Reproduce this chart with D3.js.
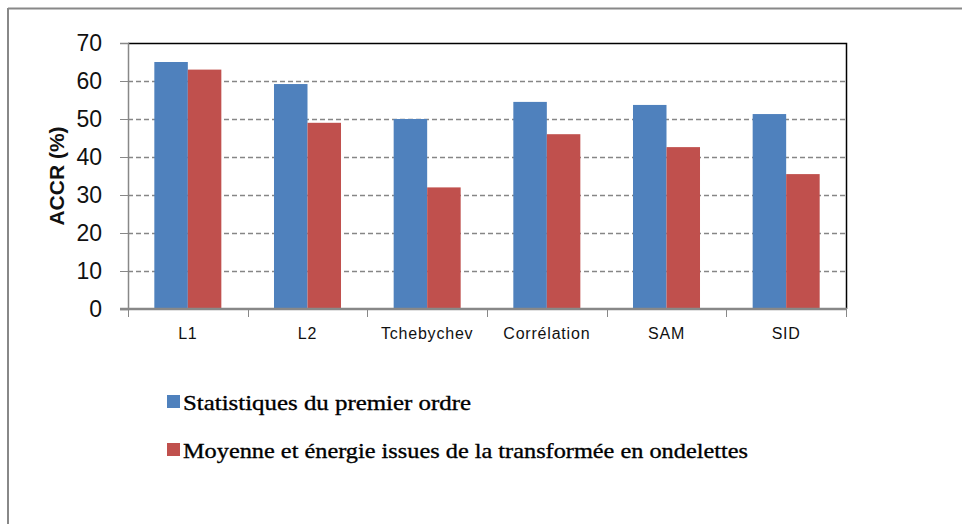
<!DOCTYPE html>
<html>
<head>
<meta charset="utf-8">
<script src="https://cdn.jsdelivr.net/npm/d3@7"></script>
<style>
  body { margin: 0; background: #fff; }
  #chart { width: 962px; height: 524px; }
</style>
</head>
<body>
<div id="chart"></div>
<script>
/* DATA */
const categories = ["L1", "L2", "Tchebychev", "Corrélation", "SAM", "SID"];
const seriesNames = ["Statistiques du premier ordre", "Moyenne et énergie issues de la transformée en ondelettes"];
const firstOrder = [65, 59.2, 50, 54.5, 53.7, 51.3];
const waveletStats = [63, 49, 32, 46, 42.6, 35.5];
const yTicks = [0, 10, 20, 30, 40, 50, 60, 70];
const colors = ["#4F81BD", "#C0504D"];

/* SVG */
const width = 962, height = 524;
const margin = {top: 43, left: 128, right: 116, bottom: 215};

const svg = d3.select("#chart")
    .append("svg")
    .attr("width", width)
    .attr("height", height);

// outer frame (top and left visible)
svg.append("line")
    .attr("x1", 8).attr("x2", width).attr("y1", 8.5).attr("y2", 8.5)
    .attr("stroke", "#888").attr("stroke-width", 2);
svg.append("line")
    .attr("x1", 8).attr("x2", 8).attr("y1", 8).attr("y2", height)
    .attr("stroke", "#888").attr("stroke-width", 2);

/* SCALES */
const xScale = d3.scaleBand()
    .domain(categories)
    .range([margin.left, width - margin.right])
    .paddingInner(0.44)
    .paddingOuter(0.22);

const xSub = d3.scaleBand()
    .domain([0, 1])
    .range([0, xScale.bandwidth()]);

const yScale = d3.scaleLinear()
    .domain([0, 70])
    .range([height - margin.bottom, margin.top]);

const plotRight = width - margin.right;
const plotBottom = height - margin.bottom;

/* GRIDLINES */
svg.append("g")
    .selectAll("line")
    .data(yTicks.filter(d => d > 0 && d < 70))
    .enter()
    .append("line")
        .attr("x1", margin.left)
        .attr("x2", plotRight)
        .attr("y1", d => Math.round(yScale(d)) + 0.5)
        .attr("y2", d => Math.round(yScale(d)) + 0.5)
        .attr("stroke", "#868686")
        .attr("stroke-width", 1.4)
        .attr("stroke-dasharray", "5,3");

/* BARS */
const series = [firstOrder, waveletStats];
series.forEach(function(values, s) {
    svg.append("g")
        .selectAll("rect")
        .data(values)
        .enter()
        .append("rect")
            .attr("x", (d, i) => xScale(categories[i]) + xSub(s))
            .attr("y", d => yScale(d))
            .attr("width", xSub.bandwidth())
            .attr("height", d => plotBottom - yScale(d))
            .attr("fill", colors[s]);
});

/* PLOT BORDER (top + right black) */
svg.append("path")
    .attr("d", `M${margin.left},${margin.top + 0.5}H${plotRight + 0.5}V${plotBottom}`)
    .attr("fill", "none")
    .attr("stroke", "#000")
    .attr("stroke-width", 1.5);

/* AXES */
const yAxis = svg.append("g")
    .attr("transform", `translate(${margin.left},0)`)
    .call(d3.axisLeft(yScale).tickValues(yTicks).tickSize(8).tickPadding(18));
yAxis.select(".domain").attr("stroke", "#888").attr("stroke-width", 1.5);
yAxis.selectAll(".tick line").attr("stroke", "#888");
yAxis.selectAll(".tick text")
    .attr("font-family", "'Liberation Sans', sans-serif")
    .attr("font-size", 23)
    .attr("fill", "#111");

const xAxis = svg.append("g")
    .attr("transform", `translate(0,${plotBottom})`)
    .call(d3.axisBottom(xScale).tickSize(0).tickPadding(19));
xAxis.select(".domain").attr("stroke", "#888").attr("stroke-width", 2.5)
    .attr("d", `M${margin.left - 8},0H${plotRight + 1}`);
xAxis.selectAll(".tick text")
    .attr("font-family", "'Liberation Sans', sans-serif")
    .attr("font-size", 16)
    .attr("letter-spacing", 0.8)
    .attr("fill", "#111");

// category separator ticks
const bounds = categories.map(c => xScale(c) - xScale.step() * xScale.paddingOuter());
bounds.push(plotRight);
svg.append("g")
    .selectAll("line")
    .data(bounds)
    .enter()
    .append("line")
        .attr("x1", d => Math.round(d) + 0.5)
        .attr("x2", d => Math.round(d) + 0.5)
        .attr("y1", plotBottom)
        .attr("y2", plotBottom + 8)
        .attr("stroke", "#888");

/* AXIS LABEL */
svg.append("text")
    .attr("transform", "rotate(-90)")
    .attr("x", -176)
    .attr("y", 64)
    .attr("text-anchor", "middle")
    .attr("font-family", "'Liberation Sans', sans-serif")
    .attr("font-weight", "bold")
    .attr("font-size", 21)
    .attr("fill", "#111")
    .text("ACCR (%)");

/* LEGEND */
const legendWidths = [288, 565];
const legend = svg.append("g")
    .selectAll("g")
    .data(seriesNames)
    .enter()
    .append("g")
        .attr("transform", (d, i) => `translate(167,${395 + i * 48})`);

legend.append("rect")
    .attr("width", 13)
    .attr("height", 13)
    .attr("fill", (d, i) => colors[i]);

legend.append("text")
    .attr("x", 16)
    .attr("y", 15)
    .attr("font-family", "'Liberation Serif', serif")
    .attr("font-size", 22)
    .attr("fill", "#000")
    .attr("stroke", "#000")
    .attr("stroke-width", 0.35)
    .attr("textLength", (d, i) => legendWidths[i])
    .attr("lengthAdjust", "spacingAndGlyphs")
    .text(d => d);
</script>
</body>
</html>
